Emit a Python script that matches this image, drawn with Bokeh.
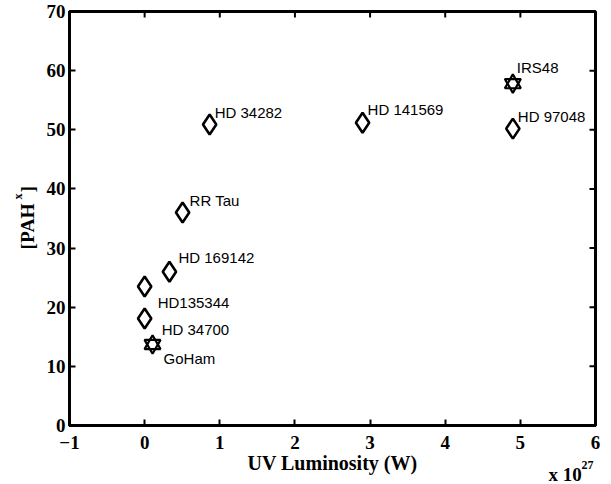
from bokeh.plotting import figure
from bokeh.models import LinearAxis, Label, Range1d, FixedTicker, ColumnDataSource
from bokeh.embed import file_html
from bokeh.resources import INLINE
from bokeh.core.properties import value
import math

# ---- data (UV luminosity in units of 1e27 W, [PAH^x]) ----
names = ["HD 34282", "RR Tau", "HD 169142", "HD135344", "HD 34700",
         "HD 141569", "HD 97048"]
uv_lum = [0.865, 0.505, 0.33, 0.0, 0.0, 2.90, 4.90]
pah = [50.9, 36.0, 26.0, 23.5, 18.1, 51.2, 50.2]

star_names = ["GoHam", "IRS48"]
star_uv = [0.105, 4.90]
star_pah = [13.7, 57.8]

x_ticks = [-1, 0, 1, 2, 3, 4, 5, 6]
y_ticks = [0, 10, 20, 30, 40, 50, 60, 70]
x_lim = [-1, 6]
y_lim = [0, 70]

# label offsets in screen pixels (style)
name_dx = [5, 7, 9, 13, 17, 5, 5]
name_dy = [-12, -12, -14, 16, 11, -13, -12]
star_dx = [11, 4]
star_dy = [14, -16]

SERIF = "Liberation Serif"
SANS = "Liberation Sans"

p = figure(frame_width=526, frame_height=414, output_backend="svg", toolbar_location=None,
           x_range=Range1d(*x_lim), y_range=Range1d(*y_lim),
           min_border_left=69, min_border_right=16, min_border_top=11,
           min_border_bottom=59, x_axis_type=None, y_axis_type=None)
p.grid.visible = False
p.outline_line_color = "black"
p.outline_line_width = 3
p.background_fill_color = "white"
p.border_fill_color = "white"


def style_axis(ax, ticks):
    ax.ticker = FixedTicker(ticks=ticks)
    ax.axis_line_color = "black"
    ax.axis_line_width = 3
    ax.major_tick_in = 6
    ax.major_tick_out = 0
    ax.major_tick_line_width = 2
    ax.minor_tick_line_color = None
    ax.major_label_text_font = SERIF
    ax.major_label_text_font_style = "bold"
    ax.major_label_text_font_size = "19px"
    ax.major_label_text_color = "black"


xb = LinearAxis()
yl = LinearAxis()
style_axis(xb, x_ticks)
style_axis(yl, y_ticks)
xb.major_label_standoff = 10
yl.major_label_standoff = 4
p.add_layout(xb, "below")
p.add_layout(yl, "left")

xb.axis_label = "UV Luminosity (W)"
xb.axis_label_text_font = SERIF
xb.axis_label_text_font_style = "bold"
xb.axis_label_text_font_size = "20px"
xb.axis_label_text_color = "black"
xb.axis_label_standoff = 0

# inward ticks on the top and right edges (half of each dash is clipped by the frame)
p.scatter(x=x_ticks, y=[y_lim[1]] * len(x_ticks), marker="dash", angle=math.pi / 2,
          size=12, line_color="black", line_width=2)
p.scatter(x=[x_lim[1]] * len(y_ticks), y=y_ticks, marker="dash",
          size=12, line_color="black", line_width=2)

# markers
src = ColumnDataSource(dict(x=uv_lum, y=pah, name=names, dx=name_dx, dy=name_dy))
ssrc = ColumnDataSource(dict(x=star_uv, y=star_pah, name=star_names, dx=star_dx, dy=star_dy))

p.scatter("x", "y", source=src, marker="diamond", size=20, fill_color="white",
          line_color="black", line_width=2.6)
p.scatter("x", "y", source=ssrc, marker="triangle", size=16, fill_color="white",
          line_color="black", line_width=2.2)
p.scatter("x", "y", source=ssrc, marker="inverted_triangle", size=16, fill_color=None,
          line_color="black", line_width=2.2)

p.text("x", "y", text="name", source=src, x_offset="dx", y_offset="dy",
       text_font=value(SANS), text_font_size="15px", text_baseline="middle",
       text_align="left", text_color="black")
p.text("x", "y", text="name", source=ssrc, x_offset="dx", y_offset="dy",
       text_font=value(SANS), text_font_size="15px", text_baseline="middle",
       text_align="left", text_color="black")

# Text outside the frame: labels live in side panels (not clipped there),
# positioned in data coordinates of the plot (anchored at their middle line).
lab_kw = dict(text_font=SERIF, text_font_style="bold", text_color="black",
              text_baseline="middle", text_align="left")

# y axis label "[PAH^x]" (rotated)
p.add_layout(Label(x=-1.554, y=29.76, text="[PAH", angle=math.pi / 2,
                   text_font_size="19.5px", **lab_kw), "left")
p.add_layout(Label(x=-1.554, y=39.4, text="]", angle=math.pi / 2,
                   text_font_size="19.5px", **lab_kw), "left")
p.add_layout(Label(x=-1.679, y=38.2, text="x", angle=math.pi / 2,
                   text_font_size="12px", **lab_kw), "below")

# exponent "x 10^27"
p.add_layout(Label(x=5.375, y=-8.22, text="x 10", text_font_size="19px", **lab_kw), "below")
p.add_layout(Label(x=5.814, y=-6.76, text="27", text_font_size="12px", **lab_kw), "right")

open("out.html", "w").write(file_html(p, INLINE))
